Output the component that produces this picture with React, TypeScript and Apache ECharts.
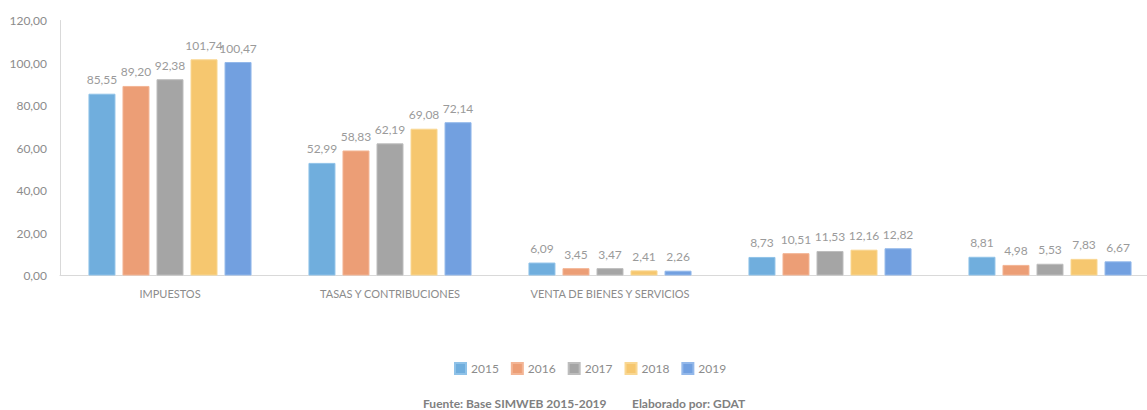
import React, { useEffect, useRef } from "react";
import * as echarts from "echarts";

const categories = ["IMPUESTOS", "TASAS Y CONTRIBUCIONES", "VENTA DE BIENES Y SERVICIOS", "", ""];
const years = ["2015", "2016", "2017", "2018", "2019"];
const v2015 = [85.55, 52.99, 6.09, 8.73, 8.81];
const v2016 = [89.2, 58.83, 3.45, 10.51, 4.98];
const v2017 = [92.38, 62.19, 3.47, 11.53, 5.53];
const v2018 = [101.74, 69.08, 2.41, 12.16, 7.83];
const v2019 = [100.47, 72.14, 2.26, 12.82, 6.67];
const seriesValues = [v2015, v2016, v2017, v2018, v2019];
const colors = ["#70AEDD", "#EC9E76", "#A5A5A5", "#F6C76F", "#72A0E0"];
const borders = ["#8FC2E8", "#F3B595", "#BDBDBD", "#F9D792", "#93B8EA"];
const footer1 = "Fuente: Base SIMWEB 2015-2019";
const footer2 = "Elaborado por: GDAT";

const fmt = (v: number) => v.toFixed(2).replace(".", ",");
const FONT = "Lato, 'Open Sans', sans-serif";

export default function App() {
  const ref = useRef<HTMLDivElement>(null);
  useEffect(() => {
    if (!ref.current) return;
    const chart = echarts.init(ref.current, null, { renderer: "svg" });
    chart.setOption({
      animation: false,
      textStyle: { fontFamily: FONT },
      grid: { left: 60, right: 0, top: 20.5, bottom: 134.5 },
      legend: {
        left: 449,
        top: 357,
        itemWidth: 11,
        itemHeight: 11,
        itemGap: 12,
        icon: "rect",
        textStyle: { color: "#8C8C8C", fontSize: 12, fontFamily: FONT },
        data: years,
      },
      xAxis: {
        type: "category",
        data: categories,
        axisLine: { lineStyle: { color: "#D9D9D9", width: 1 } },
        axisTick: { show: false },
        axisLabel: { color: "#8C8C8C", fontSize: 11, margin: 12, fontFamily: FONT, interval: 0 },
      },
      yAxis: {
        type: "value",
        min: 0,
        max: 120,
        interval: 20,
        splitLine: { show: false },
        axisLine: { show: true, lineStyle: { color: "#D9D9D9", width: 1 } },
        axisTick: { show: false },
        axisLabel: { color: "#8C8C8C", fontSize: 12, margin: 13, formatter: (v: number) => fmt(v), fontFamily: FONT },
      },
      series: years.map((y, i) => ({
        name: y,
        type: "bar",
        data: seriesValues[i],
        barWidth: 27,
        barGap: "26%",
        itemStyle: { color: colors[i], borderColor: borders[i], borderWidth: 1 },
        label: {
          show: true,
          position: "top",
          distance: 8,
          color: "#9A9A9A",
          fontSize: 12,
          fontFamily: FONT,
          formatter: (p: any) => fmt(p.value),
        },
      })),
      graphic: [
        {
          type: "text",
          left: 423,
          top: 397,
          style: { text: footer1, fill: "#808080", font: `bold 12px ${FONT}` },
        },
        {
          type: "text",
          left: 632,
          top: 397,
          style: { text: footer2, fill: "#808080", font: `bold 12px ${FONT}` },
        },
      ],
    });
    return () => chart.dispose();
  }, []);
  return (
    <div style={{ position: "absolute", left: 0, top: 0, width: 1147, height: 410, overflow: "hidden" }}>
      <div ref={ref} style={{ position: "absolute", left: 0, top: 0, width: 1160, height: 410 }} />
    </div>
  );
}
